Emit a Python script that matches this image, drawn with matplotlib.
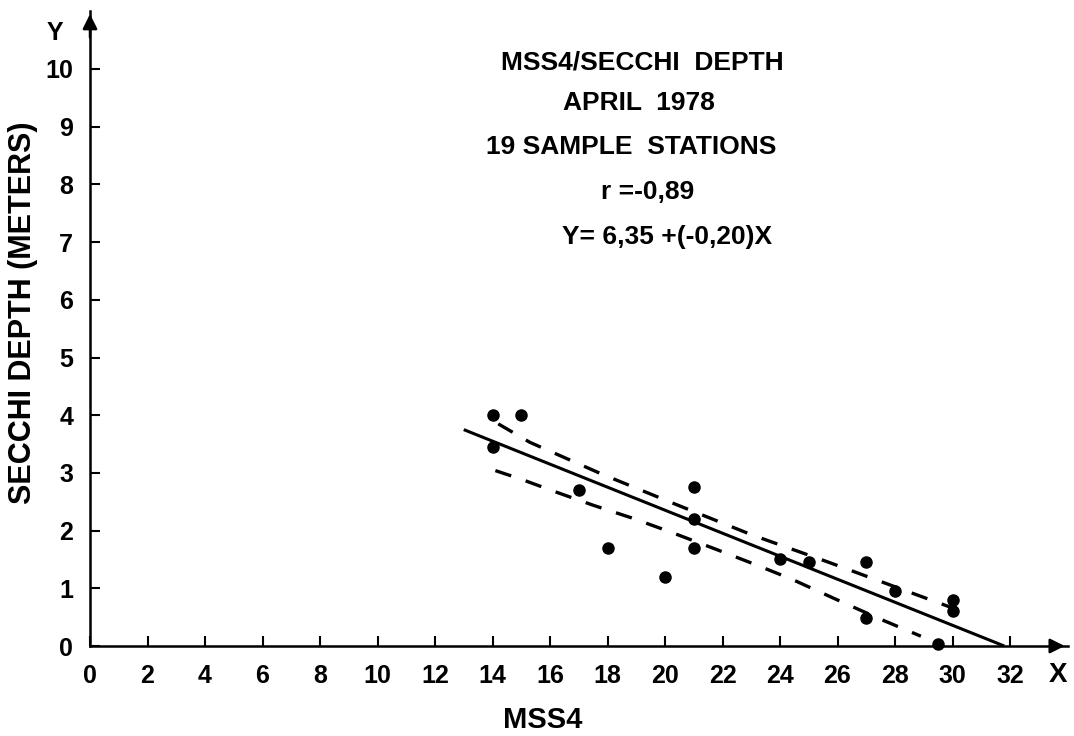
import matplotlib
matplotlib.use("Agg")
import matplotlib.pyplot as plt

plt.rcParams['font.family'] = ['Liberation Sans', 'DejaVu Sans']
plt.rcParams['lines.scale_dashes'] = False

# ---- data ----
mss4 = [14, 15, 14, 17, 18, 20, 21, 21, 21, 24, 25, 27, 27, 28, 30, 30, 29.5]
secchi = [4.0, 4.0, 3.45, 2.7, 1.7, 1.2, 2.75, 2.2, 1.7, 1.5, 1.45, 1.45, 0.48, 0.95, 0.8, 0.6, 0.03]

fit_x = [13.0, 31.8]
fit_y = [3.75, 0.0]

upper_x = [14.2, 15.3, 17.8, 20.35, 23.0, 25.7, 28.85, 30.6]
upper_y = [3.85, 3.53, 2.98, 2.46, 1.93, 1.45, 0.87, 0.55]

lower_x = [14.1, 15.0, 16.2, 17.5, 18.84, 20.17, 21.7, 23.1, 24.4, 25.9, 27.47, 28.9]
lower_y = [3.04, 2.89, 2.67, 2.44, 2.22, 1.98, 1.69, 1.42, 1.16, 0.82, 0.47, 0.17]

x_ticks = list(range(0, 33, 2))
y_ticks = list(range(0, 11))

title_lines = ["MSS4/SECCHI  DEPTH", "APRIL  1978", "19 SAMPLE  STATIONS",
               "r =-0,89", "Y= 6,35 +(-0,20)X"]
x_label = "MSS4"
y_label = "SECCHI DEPTH (METERS)"

# ---- figure ----
W, H = 1074, 736
fig = plt.figure(figsize=(W / 100, H / 100), dpi=100)
fig.patch.set_facecolor('white')

x0, y0 = 90, 646
sx, sy = 28.75, 57.7
xmax, ymax = 34, 11
ax = fig.add_axes([x0 / W, (H - y0) / H, xmax * sx / W, ymax * sy / H])
ax.set_xlim(0, xmax)
ax.set_ylim(0, ymax)
for s in ['top', 'right']:
    ax.spines[s].set_visible(False)
for s in ['left', 'bottom']:
    ax.spines[s].set_linewidth(1.8)
ax.patch.set_alpha(0)

ax.set_xticks(x_ticks)
ax.set_yticks(y_ticks)
ax.set_xticklabels([str(t) for t in x_ticks])
ax.set_yticklabels([str(t) for t in y_ticks])
ax.tick_params(axis='x', direction='in', length=7, width=1.5, pad=13, labelsize=18)
ax.tick_params(axis='y', direction='in', length=7, width=1.5, pad=12, labelsize=18)
for lab in ax.get_xticklabels() + ax.get_yticklabels():
    lab.set_fontweight('bold')

# arrows at axis ends
ax.annotate('', xy=(0, ymax), xytext=(0, ymax - 0.5),
            arrowprops=dict(arrowstyle='-|>', color='black', lw=1.8, mutation_scale=22),
            annotation_clip=False)
ax.annotate('', xy=(xmax, 0), xytext=(xmax - 0.6, 0),
            arrowprops=dict(arrowstyle='-|>', color='black', lw=1.8, mutation_scale=22),
            annotation_clip=False)

# data
ax.plot(fit_x, fit_y, color='black', lw=2.2, solid_capstyle='butt', clip_on=False)
ax.plot(upper_x, upper_y, color='black', lw=2.4, dashes=(12, 11), clip_on=False)
ax.plot(lower_x, lower_y, color='black', lw=2.4, dashes=(12, 11), clip_on=False)
ax.plot(mss4, secchi, 'o', color='black', ms=8, clip_on=False)

# text
def ft(x, y, s, **kw):
    fig.text(x / W, 1 - y / H, s, ha='center', va='center', fontweight='bold', **kw)

title_pos = [(642, 62), (639, 103), (631, 147), (648, 192), (667, 237)]
for (px, py), s in zip(title_pos, title_lines):
    ft(px, py, s, fontsize=19)

ft(543, 720, x_label, fontsize=21)
ft(23, 313, y_label, fontsize=22, rotation=90)
ft(55, 33, "Y", fontsize=18)
ft(1058, 675, "X", fontsize=20)

fig.savefig('out.png', dpi=100, facecolor='white')
